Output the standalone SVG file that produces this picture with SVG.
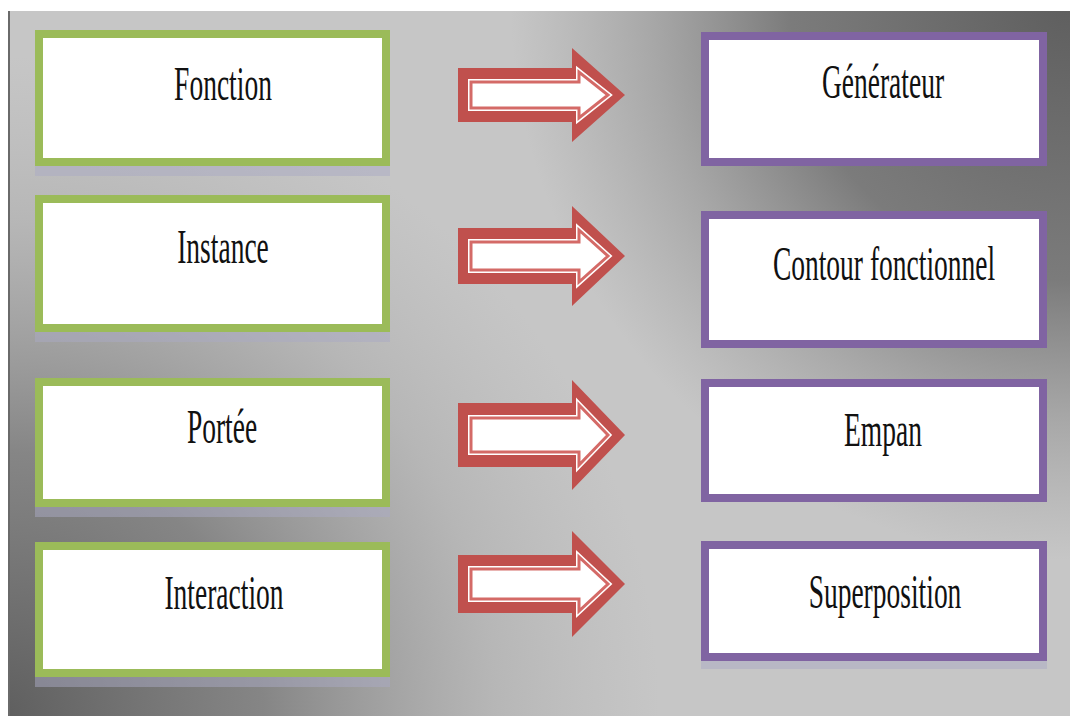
<svg xmlns="http://www.w3.org/2000/svg" width="1070" height="716" viewBox="0 0 1070 716">
  <defs>
    <radialGradient id="darkTR" cx="1070" cy="0" r="560" gradientUnits="userSpaceOnUse">
      <stop offset="0" stop-color="#5e5e5e" stop-opacity="1"/>
      <stop offset="0.5" stop-color="#6e6e6e" stop-opacity="0.85"/>
      <stop offset="0.75" stop-color="#7a7a7a" stop-opacity="0.4"/>
      <stop offset="1" stop-color="#888888" stop-opacity="0"/>
    </radialGradient>
    <radialGradient id="darkBL" cx="0" cy="716" r="660" gradientUnits="userSpaceOnUse">
      <stop offset="0" stop-color="#5e5e5e" stop-opacity="1"/>
      <stop offset="0.4" stop-color="#707070" stop-opacity="0.75"/>
      <stop offset="0.75" stop-color="#888888" stop-opacity="0.25"/>
      <stop offset="1" stop-color="#999999" stop-opacity="0"/>
    </radialGradient>
    <style>
      .g { fill: #ffffff; stroke: #9bbb59; stroke-width: 8; }
      .p { fill: #ffffff; stroke: #8064a2; stroke-width: 8; }
      .sh { fill: #a9a9c4; opacity: 0.5; }
      .lbl { font-family: "Liberation Serif", "Times New Roman", serif; font-size: 27.5px; fill: #111111; text-anchor: middle; }
      .ao { fill: #c0504d; }
      .aw { fill: #ffffff; stroke: #ffffff; stroke-width: 6; stroke-linejoin: miter; }
      .ai { fill: #ffffff; stroke: #d46a67; stroke-width: 3; stroke-linejoin: miter; }
    </style>
  </defs>

  <rect x="0" y="0" width="1070" height="716" fill="#ffffff"/>
  <rect x="10" y="11" width="1060" height="705" fill="#c6c6c6"/>
  <rect x="10" y="11" width="1060" height="705" fill="url(#darkTR)"/>
  <rect x="10" y="11" width="1060" height="705" fill="url(#darkBL)"/>
  <line x1="9" y1="11" x2="9" y2="716" stroke="#6a6a6a" stroke-width="2"/>

  <g id="node-fonction">
    <rect class="sh" x="35" y="166" width="355" height="10"/>
    <rect class="g" x="39" y="34" width="347" height="128"/>
    <text class="lbl" transform="translate(223,100) scale(1,1.8)">Fonction</text>
  </g>
  <g id="node-instance">
    <rect class="sh" x="35" y="332" width="355" height="10"/>
    <rect class="g" x="39" y="199" width="347" height="129"/>
    <text class="lbl" transform="translate(223,263) scale(1,1.8)">Instance</text>
  </g>
  <g id="node-portee">
    <rect class="sh" x="35" y="507" width="355" height="10"/>
    <rect class="g" x="39" y="382" width="347" height="121"/>
    <text class="lbl" transform="translate(222,443) scale(1,1.8)">Portée</text>
  </g>
  <g id="node-interaction">
    <rect class="sh" x="35" y="677" width="355" height="10"/>
    <rect class="g" x="39" y="546" width="347" height="127"/>
    <text class="lbl" transform="translate(224,609) scale(1,1.8)">Interaction</text>
  </g>

  <g id="node-generateur">
    <rect class="p" x="705" y="36" width="338" height="126"/>
    <text class="lbl" transform="translate(883,98) scale(1,1.8)">Générateur</text>
  </g>
  <g id="node-contour">
    <rect class="p" x="705" y="215" width="338" height="129"/>
    <text class="lbl" transform="translate(884,280) scale(1,1.8)">Contour fonctionnel</text>
  </g>
  <g id="node-empan">
    <rect class="p" x="705" y="383" width="338" height="115"/>
    <text class="lbl" transform="translate(883,446) scale(1,1.8)">Empan</text>
  </g>
  <g id="node-superposition">
    <rect class="sh" x="701" y="661" width="346" height="8"/>
    <rect class="p" x="705" y="545" width="338" height="112"/>
    <text class="lbl" transform="translate(885,608) scale(1,1.8)">Superposition</text>
  </g>

  <g id="connectors">
    <g id="arrow-1">
      <polygon class="ao" points="458,68 572,68 572,48 625,95 572,142 572,122 458,122"/>
      <polygon class="aw" points="471,82 579,82 579,72 608,95 579,118 579,108 471,108"/>
      <polygon class="ai" points="471,82 579,82 579,72 608,95 579,118 579,108 471,108"/>
    </g>
    <g id="arrow-2">
      <polygon class="ao" points="458,228 572,228 572,206 625,256 572,306 572,284 458,284"/>
      <polygon class="aw" points="471,242 579,242 579,230 608,256 579,282 579,270 471,270"/>
      <polygon class="ai" points="471,242 579,242 579,230 608,256 579,282 579,270 471,270"/>
    </g>
    <g id="arrow-3">
      <polygon class="ao" points="458,403 572,403 572,380 625,435 572,490 572,467 458,467"/>
      <polygon class="aw" points="471,418 579,418 579,405 608,435 579,465 579,452 471,452"/>
      <polygon class="ai" points="471,418 579,418 579,405 608,435 579,465 579,452 471,452"/>
    </g>
    <g id="arrow-4">
      <polygon class="ao" points="458,555 572,555 572,531 625,584 572,637 572,613 458,613"/>
      <polygon class="aw" points="471,569 579,569 579,557 608,584 579,611 579,599 471,599"/>
      <polygon class="ai" points="471,569 579,569 579,557 608,584 579,611 579,599 471,599"/>
    </g>
  </g>
</svg>
